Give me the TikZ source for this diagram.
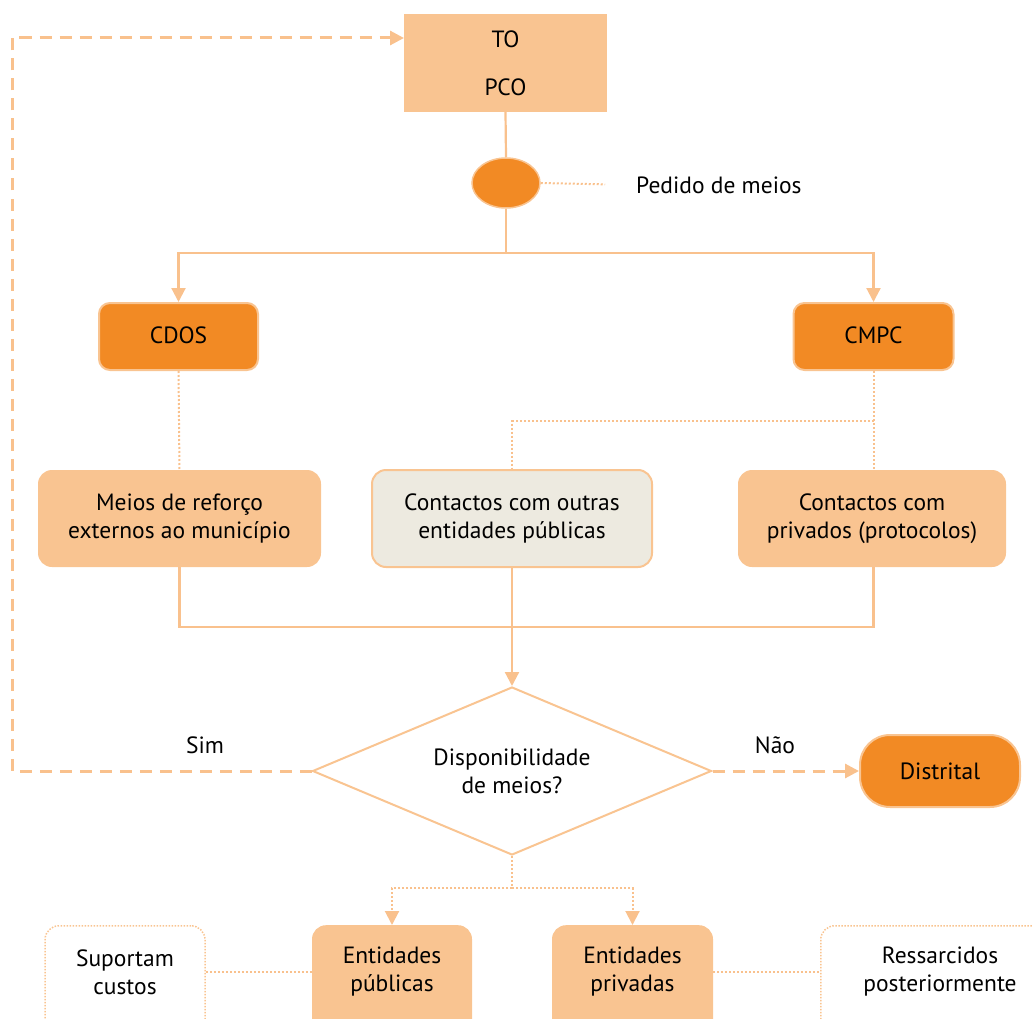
\documentclass[tikz,border=0pt]{standalone}
\usepackage{fontspec}
\setmainfont{PT Sans}
\usetikzlibrary{arrows.meta,shapes.geometric}
\definecolor{lor}{HTML}{F9C491}
\definecolor{dor}{HTML}{F28A24}
\definecolor{beig}{HTML}{EDEAE0}
\definecolor{ln}{HTML}{F9C18D}
\begin{document}
\begin{tikzpicture}[x=1pt,y=-1pt,
  font=\fontsize{23.5}{28}\selectfont,
  conn/.style={draw=ln, line width=2.2pt},
  dashconn/.style={draw=ln, line width=3pt, dash pattern=on 12pt off 8pt},
  dotconn/.style={draw=ln, line width=2pt, dash pattern=on 2pt off 2pt},
  tip/.style={-{Triangle[length=14pt,width=14pt]}},
  lbox/.style={fill=lor, rounded corners=14pt, inner sep=0pt},
  obox/.style={fill=dor, draw=lor, line width=2pt, rounded corners=11pt, inner sep=0pt},
  txt/.style={align=center, inner sep=2pt}]
\useasboundingbox (0,0) rectangle (1033,1019);
\clip (0,0) rectangle (1033,1019);

% top box
\node[fill=lor, minimum width=203pt, minimum height=98pt, align=center, inner sep=0pt] (top) at (505.5,63) {TO\\[20pt]PCO};
\node[ellipse, fill=dor, draw=lor, line width=1.5pt, minimum width=68pt, minimum height=50pt] (ell) at (506,183) {};
\node[anchor=west, inner sep=0pt] (ped) at (636,185) {Pedido de meios};
\draw[dotconn, shorten >=31pt] (ell.east) -- (ped.west);
\draw[conn] (top.south) -- (ell.north);

% CDOS / CMPC
\node[obox, minimum width=159pt, minimum height=67pt] (cdos) at (178.5,336.5) {\raisebox{3pt}{CDOS}};
\node[obox, minimum width=160pt, minimum height=67pt] (cmpc) at (873.5,336.5) {\raisebox{3pt}{CMPC}};
\coordinate (j1) at (506,253);
\draw[conn] (ell.south) -- (j1);
\draw[conn, tip] (j1) -| (cdos.north);
\draw[conn, tip] (j1) -| (cmpc.north);

% middle boxes
\node[lbox, minimum width=283pt, minimum height=97pt, txt] (meios) at (179.5,518.5) {Meios de reforço\\externos ao município};
\node[fill=beig, draw=lor, line width=2pt, rounded corners=14pt, minimum width=280pt, minimum height=97pt, txt] (cpub) at (512,518.5) {Contactos com outras\\entidades públicas};
\node[lbox, minimum width=268pt, minimum height=97pt, txt] (cpriv) at (872,518.5) {Contactos com\\privados (protocolos)};

\draw[dotconn] (cdos.south) -- (meios.north);
\draw[dotconn] (cmpc.south) -- (cmpc.south |- cpriv.north);
\coordinate (j2) at (873.5,421);
\draw[dotconn] (j2) -| (cpub.north);

% merge to decision
\coordinate (j3) at (512,627);
\draw[conn] (meios.south) |- (j3);
\draw[conn] (cmpc.south |- cpriv.south) |- (j3);

\node[diamond, aspect=2.375, draw=lor, line width=2pt, fill=white, minimum width=399pt, minimum height=168pt, inner sep=0pt, txt] (dia) at (512,771) {Disponibilidade\\de meios?};
\draw[conn, tip] (cpub.south) -- (dia.north);

% Sim branch
\node[inner sep=0pt] (sim) at (205,745) {Sim};
\coordinate (c1) at (12,771);
\coordinate (c2) at (12,38);
\coordinate (toin) at (404,38);
\draw[dashconn, tip] (dia.west) -- (c1) -- (c2) -- (toin);

% Nao branch
\node[inner sep=0pt] (nao) at (775,745) {Não};
\node[fill=dor, draw=lor, line width=2pt, rounded corners=30pt, minimum width=160pt, minimum height=72pt, inner sep=0pt] (dist) at (940,771) {Distrital};
\draw[dashconn, tip] (dia.east) -- (dist.west);

% bottom
\node[lbox, minimum width=160pt, minimum height=200pt, anchor=north] (epub) at (392,925) {};
\node[txt] (epubt) at (392,972) {Entidades\\públicas};
\node[lbox, minimum width=161pt, minimum height=200pt, anchor=north] (epriv) at (632.5,925) {};
\node[txt] (eprivt) at (632.5,972) {Entidades\\privadas};
\node[draw=lor, line width=1.5pt, dash pattern=on 1.5pt off 1.5pt, rounded corners=14pt, minimum width=160pt, minimum height=200pt, anchor=north] (sup) at (125,925) {};
\node[txt] (supt) at (125,972) {Suportam\\custos};
\node[draw=lor, line width=1.5pt, dash pattern=on 1.5pt off 1.5pt, rounded corners=14pt, minimum width=240pt, minimum height=200pt, anchor=north west] (res) at (820,925) {};
\node[txt] (rest) at (940,972) {Ressarcidos\\posteriormente};

\coordinate (j4) at (512,888);
\draw[dotconn] (dia.south) -- (j4);
\draw[dotconn, tip] (j4) -| (epub.north);
\draw[dotconn, tip] (j4) -| (epriv.north);
\draw[dotconn] (sup.east |- supt.center) -- (epub.west |- supt.center);
\draw[dotconn] (epriv.east |- eprivt.center) -- (res.west |- eprivt.center);
\end{tikzpicture}
\end{document}
